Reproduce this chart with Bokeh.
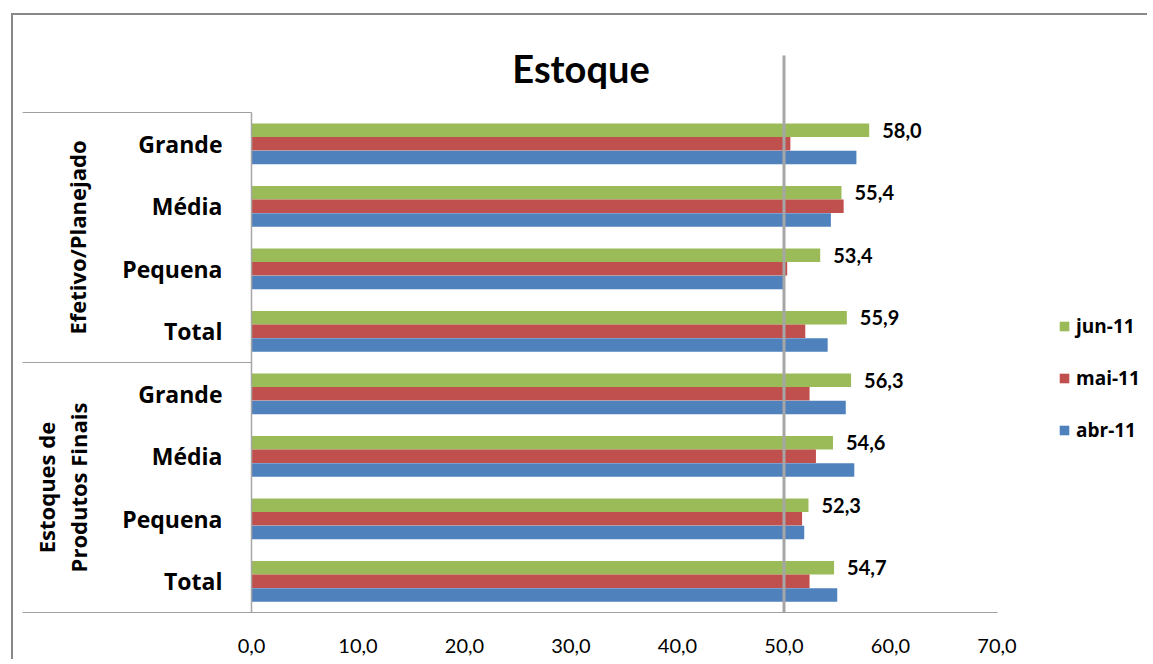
import math
from bokeh.plotting import figure
from bokeh.models import ColumnDataSource, FixedTicker, Legend, LegendItem, Range1d, CustomJSTickFormatter
from bokeh.core.properties import value
from bokeh.embed import file_html
from bokeh.resources import INLINE

# ---- data ----
groups = ["Efetivo/Planejado", "Estoques de\nProdutos Finais"]
sizes = ["Grande", "Média", "Pequena", "Total"]
series = ["jun-11", "mai-11", "abr-11"]
jun_11 = [58.0, 55.4, 53.4, 55.9, 56.3, 54.6, 52.3, 54.7]
mai_11 = [50.6, 55.6, 50.3, 52.0, 52.4, 53.0, 51.7, 52.4]
abr_11 = [56.8, 54.4, 50.0, 54.1, 55.8, 56.6, 51.9, 55.0]
x_ticks = [0, 10, 20, 30, 40, 50, 60, 70]
reference_value = 50
title_text = "Estoque"

colors = ["#9BBB59", "#C0504D", "#4F81BD"]
FONT = "Lato"
FONT2 = "Open Sans"

# ---- layout (reference pixel geometry) ----
X0 = 251.0          # px of value 0
XS = 10.65          # px per unit
Y0 = 612.0          # px of row-bottom
YS = 62.5           # px per row
CANVAS_L, CANVAS_T = 13, 15
W, H = 1136, 646
FR_L, FR_T, FR_R, FR_B = 14, 16, CANVAS_L + W, 614

def xv(px):
    return (px - X0) / XS

def yv(px):
    return (Y0 - px) / YS

n = len(groups) * len(sizes)
cats = [s for g in groups for s in sizes]
centers = [n - i - 0.5 for i in range(n)]
bar_h = 0.216
offs = [0.218, 0.0, -0.218]

p = figure(width=W, height=H, output_backend="svg", toolbar_location=None,
           x_range=Range1d(xv(FR_L), xv(FR_R)), y_range=Range1d(yv(FR_B), yv(FR_T)),
           y_axis_location=None, min_border_left=FR_L - CANVAS_L,
           min_border_top=FR_T - CANVAS_T, min_border_right=0,
           min_border_bottom=CANVAS_T + H - FR_B)
p.styles = {"border-left": "2px solid #888888", "border-top": "2px solid #888888",
            "border-right": "none", "border-bottom": "none", "outline": "none",
            "box-shadow": "none", "margin-left": "11px", "margin-top": "13px"}
p.outline_line_color = None
p.border_fill_color = "white"
p.grid.visible = False
p.background_fill_color = "white"

# bars
renderers = []
vals = [jun_11, mai_11, abr_11]
for k, (name, v) in enumerate(zip(series, vals)):
    src = ColumnDataSource(dict(y=[c + offs[k] for c in centers], right=v))
    r = p.hbar(y="y", right="right", left=0, height=bar_h, source=src,
               fill_color=colors[k], line_color=None)
    renderers.append(r)

# reference line at 50
p.segment(x0=[reference_value], x1=[reference_value], y0=[0], y1=[yv(55)],
          line_color="#A6A6A6", line_width=3)

# axis lines of the category axis
p.segment(x0=[0], x1=[0], y0=[0], y1=[n], line_color="#A6A6A6", line_width=1.5)
p.segment(x0=[xv(22)] * 3, x1=[0, 0, x_ticks[-1] + 0.05], y0=[n, n / 2, 0], y1=[n, n / 2, 0],
          line_color="#A0A0A0", line_width=1)

# data labels
lab_src = ColumnDataSource(dict(x=jun_11, y=[c + offs[0] for c in centers],
                                t=[f"{v:.1f}".replace(".", ",") for v in jun_11]))
p.text(x="x", y="y", text="t", source=lab_src, x_offset=13, text_align="left",
       text_baseline="middle", text_font=value(FONT), text_font_style="bold",
       text_font_size="20px", text_color="#000000")

# category labels
cat_src = ColumnDataSource(dict(x=[0] * n, y=centers, t=cats))
p.text(x="x", y="y", text="t", source=cat_src, x_offset=-29, text_align="right",
       text_baseline="middle", text_font=value(FONT2), text_font_style="bold",
       text_font_size="23px", text_color="#000000")

# group labels (rotated)
g_centers = [n * 3 / 4, n / 4]
g_xoff = [76 - X0, 61.5 - X0]
for g, gc, xo in zip(groups, g_centers, g_xoff):
    p.text(x=[0], y=[gc], text=[g], x_offset=xo, angle=math.pi / 2,
           text_align="center", text_baseline="middle", text_font=value(FONT2),
           text_font_style="bold", text_font_size="22px", text_color="#000000",
           text_line_height=1.07)

# title
p.text(x=[xv(580.5)], y=[yv(67)], text=[title_text], text_align="center",
       text_baseline="middle", text_font=value(FONT), text_font_style="bold",
       text_font_size="38px", text_color="#000000")

# x axis
ax = p.xaxis[0]
ax.ticker = FixedTicker(ticks=x_ticks)
ax.formatter = CustomJSTickFormatter(code="return tick.toFixed(1).replace('.', ',');")
ax.axis_line_color = None
ax.major_tick_line_color = None
ax.minor_tick_line_color = None
ax.major_label_standoff = 18
ax.major_label_text_font = FONT
ax.major_label_text_font_size = "20px"
ax.major_label_text_color = "#000000"

# legend
items = [LegendItem(label=s, renderers=[r]) for s, r in zip(series, renderers)]
legend = Legend(items=items, location=(1058 - FR_L, FR_B - 443), padding=0, margin=0,
                spacing=26, glyph_width=12, glyph_height=12, label_height=20,
                label_standoff=6, border_line_color=None, background_fill_alpha=0,
                label_text_font=FONT2, label_text_font_style="bold",
                label_text_font_size="19px", label_text_color="#000000")
p.add_layout(legend, "center")

open("out.html", "w").write(file_html(p, INLINE))
